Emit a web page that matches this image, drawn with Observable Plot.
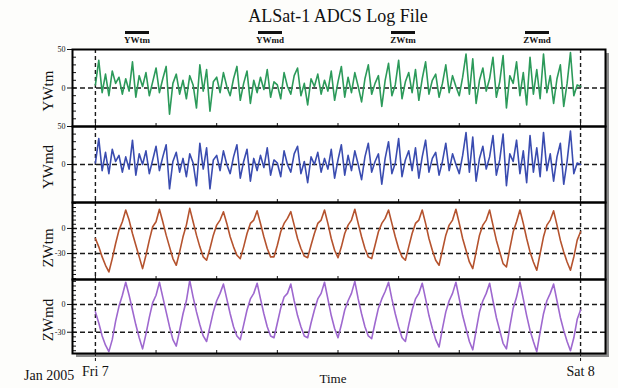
<!DOCTYPE html>
<html><head><meta charset="utf-8">
<script src="https://cdn.jsdelivr.net/npm/d3@7"></script>
<script src="https://cdn.jsdelivr.net/npm/@observablehq/plot@0.6"></script>
<style>
body{margin:0;background:#fff;}
#wrap{position:relative;width:618px;height:388px;overflow:hidden;background:#fdfdfb;font-family:"Liberation Serif","DejaVu Serif",serif;color:#111;}
.abs{position:absolute;white-space:nowrap;}
svg{overflow:visible;}
</style></head><body><div id="wrap"></div>
<script>
const titleText = "ALSat-1 ADCS Log File";
const seriesNames = ["YWtm", "YWmd", "ZWtm", "ZWmd"];
const startTime = "2005-01-07T00:00Z";
const stepMinutes = 10;
const xDomain = ["2005-01-06T22:52Z", "2005-01-08T01:14Z"];
const dayTicks = ["2005-01-07T00:00Z", "2005-01-08T00:00Z"];
const dayTickLabels = ["Fri 7", "Sat 8"];
const yearLabel = "Jan 2005";
const xLabel = "Time";

const YWtm = [
 4, 36, -6, 18, -10, 22, 6, 14, -8, 12,
 -4, 34, -12, 16, 2, 20, -10, 8, 26, -6,
 12, 28, -34, 6, 18, -8, 10, -14, 16, 4,
 -26, 30, -4, 24, -30, 8, 14, -6, 20, 2,
 -10, 12, 28, -16, 6, 22, -20, 10, -6, 14,
 -2, 24, -12, 8, 4, -14, 20, 2, -8, 16,
 26, -10, 6, -22, 12, 2, 18, -8, 10, -4,
 22, -16, 8, 28, -12, 14, -6, 20, 2, -18,
 12, 30, -8, 6, 16, -24, 10, 32, -10, 4,
 36, -14, 8, 20, -6, 24, -16, 12, 34, -8,
 10, 18, -12, 6, 30, -6, 16, 2, -10, 14,
 44, -8, 38, -20, 10, 26, -4, 12, 40, -12,
 8, 42, -26, 16, 6, 34, -10, 20, -22, 40,
 -8, 24, -14, 44, -6, 16, -20, 12, 30, -24,
 6, 46, -10, 4, 2];
const YWmd = [
 2, 34, -8, 16, -12, 20, 4, 12, -10, 10,
 -6, 32, -14, 14, 0, 18, -12, 6, 24, -8,
 10, 26, -32, 4, 16, -10, 8, -16, 14, 2,
 -28, 28, -6, 22, -32, 6, 12, -8, 18, 0,
 -12, 10, 26, -18, 4, 20, -22, 8, -8, 12,
 -4, 22, -14, 6, 2, -16, 18, 0, -10, 14,
 24, -12, 4, -24, 10, 0, 16, -10, 8, -6,
 20, -18, 6, 26, -14, 12, -8, 18, 0, -20,
 10, 28, -10, 4, 14, -26, 8, 30, -12, 2,
 34, -16, 6, 18, -8, 22, -18, 10, 32, -10,
 8, 16, -14, 4, 28, -8, 14, 0, -12, 12,
 42, -10, 36, -22, 8, 24, -6, 10, 38, -14,
 6, 40, -28, 14, 4, 32, -12, 18, -24, 38,
 -10, 22, -16, 42, -8, 14, -22, 10, 28, -26,
 4, 44, -12, 2, 0];
const ZWtm = [
 -12, -22, -34, -44, -52, -36, -18, -2, 8, 22,
 10, -6, -20, -34, -48, -32, -14, 2, 8, 23,
 8, -8, -22, -36, -44, -28, -10, 4, 24,
 8, -8, -22, -34, -38, -24, -8, 4, 10, 20,
 6, -10, -22, -32, -36, -22, -6, 6, 10, 21,
 6, -10, -24, -34, -34, -20, -4, 6, 12, 20,
 4, -12, -24, -33, -35, -20, -6, 6, 10, 22,
 6, -12, -26, -35, -22, -6, 4, 10, 23,
 6, -10, -24, -34, -36, -20, -4, 6, 12, 22,
 6, -10, -24, -34, -38, -22, -6, 6, 10, 22,
 6, -12, -26, -38, -44, -26, -8, 4, 10, 23,
 6, -12, -26, -40, -48, -28, -8, 4, 10, 22,
 4, -14, -28, -42, -46, -24, -4, 8, 22,
 6, -12, -28, -40, -50, -30, -10, 4, 10, 21,
 4, -14, -28, -40, -50, -34, -14, -4];
const ZWmd = [
 -8, -20, -34, -44, -51, -38, -18, -2, 10, 24,
 10, -6, -22, -36, -48, -32, -14, 2, 10, 24,
 8, -8, -24, -38, -45, -28, -10, 4, 26,
 8, -8, -22, -34, -40, -24, -8, 4, 12, 22,
 6, -10, -24, -34, -38, -22, -6, 6, 12, 23,
 6, -10, -24, -34, -36, -20, -4, 8, 12, 22,
 4, -12, -24, -34, -36, -20, -6, 6, 12, 24,
 6, -12, -26, -36, -22, -6, 4, 12, 25,
 6, -10, -24, -34, -37, -20, -4, 6, 14, 24,
 6, -10, -24, -36, -40, -22, -6, 6, 12, 23,
 6, -12, -26, -38, -46, -26, -8, 4, 12, 24,
 6, -12, -26, -40, -49, -28, -8, 4, 12, 23,
 4, -14, -28, -42, -48, -24, -4, 8, 24,
 6, -12, -28, -40, -51, -30, -10, 4, 12, 22,
 4, -14, -28, -40, -50, -36, -16, -6];

const seriesValues = [YWtm, YWmd, ZWtm, ZWmd];
const seriesColors = ["#2c9a5a", "#3a4cb0", "#b5532e", "#9e68cf"];
const yDomains = [[-50, 50], [-50, 50], [-61, 31], [-53, 27]];
const yLabeledTicks = [[50, 0], [50, 0], [0, -30], [0, -30]];
const yDashed = [[0], [0], [0, -30], [0, -30]];
const yMinorStep = [10, 10, 5, 5];
const panelTop = [49, 126, 202, 279];
const panelH = [77, 76, 77, 74];
const legendX = [137, 270, 403, 537];

const wrap = document.getElementById("wrap");
function addText(txt, css) {
  const d = document.createElement("div");
  d.className = "abs"; d.textContent = txt; d.style.cssText += css;
  wrap.appendChild(d); return d;
}
// title
addText(titleText, "left:0;width:676px;text-align:center;top:6px;font-size:18px;");
// legend
seriesNames.forEach((n, i) => {
  const bar = document.createElement("div");
  bar.className = "abs";
  bar.style.cssText = `left:${legendX[i]-12}px;top:31px;width:24px;height:3px;background:#111;`;
  wrap.appendChild(bar);
  addText(n, `left:${legendX[i]-30}px;width:60px;text-align:center;top:35px;font-size:9px;font-weight:bold;`);
});
// frame shadow
const sh = document.createElement("div");
sh.className = "abs";
sh.style.cssText = "left:72px;top:49px;width:533px;height:304px;background:#fff;box-shadow:4px 4px 0 #8c8c8c;";
wrap.appendChild(sh);

const t0 = new Date(startTime).getTime();
const xd = xDomain.map(d => new Date(d));
const days = dayTicks.map(d => new Date(d));
const threeHour = d3.utcHour.every(3).range(xd[0], xd[1]);

seriesNames.forEach((name, k) => {
  const data = seriesValues[k].map((v, i) => ({t: new Date(t0 + i * stepMinutes * 60000), v}));
  const isLast = k === 3;
  const h = panelH[k];
  const [lo, hi] = yDomains[k];
  const minor = d3.range(Math.ceil(lo / yMinorStep[k]) * yMinorStep[k], hi + 0.01, yMinorStep[k]);
  const extraB = isLast ? 36 : 0;
  const marks = [
    Plot.ruleY(yDashed[k], {stroke: "#1a1a1a", strokeWidth: 1.4, strokeDasharray: "5,3"}),
    Plot.ruleX(days, {stroke: "#1a1a1a", strokeWidth: 1.4, strokeDasharray: "4,3"}),
    Plot.line(data, {x: "t", y: "v", stroke: seriesColors[k], strokeWidth: 1.6}),
    Plot.tickY(minor, {y: d => d, insetRight: 529, stroke: "#111", strokeWidth: 1}),
    Plot.tickX(threeHour, {x: d => d, insetTop: h - 3, stroke: "#111", strokeWidth: 1}),
    Plot.axisY({ticks: yLabeledTicks[k], tickSize: 5, tickPadding: 2, label: null, fontSize: 8,
      tickFormat: d => String(d)}),
    Plot.frame({stroke: "#000", strokeWidth: 2})
  ];
  if (isLast) {
    marks.push(Plot.axisX(days, {tickSize: 8, tickPadding: 5, fontSize: 14, label: null,
      tickFormat: d => dayTickLabels[days.findIndex(x => x.getTime() === d.getTime())],
      strokeDasharray: "3,2"}));
  }
  const svg = Plot.plot({
    width: 618, height: h + 4 + extraB,
    marginLeft: 72, marginRight: 13, marginTop: 2, marginBottom: 2 + extraB,
    x: {type: "utc", domain: xd, axis: null},
    y: {domain: yDomains[k]},
    style: {background: "transparent", fontFamily: "Liberation Serif", color: "#111", overflow: "visible"},
    marks
  });
  svg.classList.add("abs");
  svg.style.left = "0px";
  svg.style.top = (panelTop[k] - 2) + "px";
  wrap.appendChild(svg);
  // rotated y label
  const centers = [91, 167, 248, 320];
  const lab = addText(name, `left:${48 - 40}px;width:80px;text-align:center;top:${centers[k] - 9}px;font-size:15px;line-height:18px;transform:rotate(-90deg);`);
});
addText(yearLabel, "left:24px;top:368px;font-size:14px;");
addText(xLabel, "left:290px;width:86px;text-align:center;top:371px;font-size:13px;");
</script></body></html>
